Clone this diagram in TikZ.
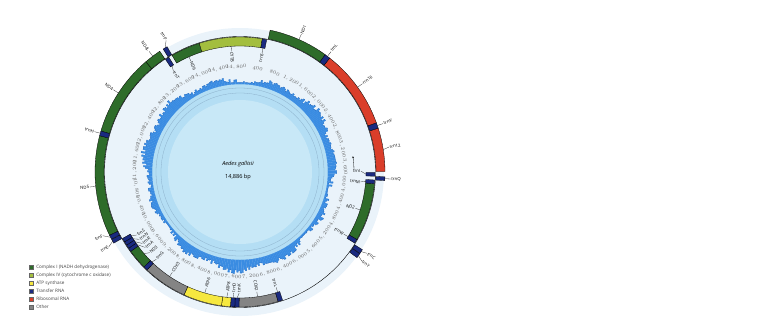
\documentclass[tikz,border=0pt]{standalone}
\usepackage{fontspec}
\setmainfont{Open Sans}
\usetikzlibrary{arrows.meta, positioning}
\definecolor{nadhgreen}{RGB}{46,108,42}
\definecolor{coxolive}{RGB}{163,190,62}
\definecolor{atpyellow}{RGB}{246,232,64}
\definecolor{trnanavy}{RGB}{26,42,128}
\definecolor{rrnared}{RGB}{218,62,42}
\definecolor{othergray}{RGB}{132,132,132}
\definecolor{mapbg}{RGB}{234,243,250}
\definecolor{gcblue}{RGB}{58,140,226}
\definecolor{gcedge}{RGB}{30,92,176}
\definecolor{gcband}{RGB}{180,222,244}
\definecolor{gccore}{RGB}{200,232,247}
\definecolor{gcline}{RGB}{140,176,202}

\tikzset{
  genebox/.style={draw=black, line width=0.3pt},
  glabel/.style={font=\fontsize{4.3pt}{5pt}\selectfont, inner sep=0.5pt},
  leader/.style={draw=black!80, line width=0.3pt},
  ticklabel/.style={font=\fontsize{2.3pt}{3pt}\selectfont, text=black!60, inner sep=0pt},
  legbox/.style={draw=black!60, line width=0.2pt, minimum size=4pt, inner sep=0pt},
  legtext/.style={font=\fontsize{4.6pt}{5pt}\selectfont, text=black!75, inner sep=0.5pt}
}

% gene boxes: inside the genome line (+) or outside (-)
\newcommand{\geneIn}[3]{\filldraw[genebox, fill=#3] (#1:126pt) arc[start angle=#1, end angle=#2, radius=126pt] -- (#2:135pt) arc[start angle=#2, end angle=#1, radius=135pt] -- cycle;}
\newcommand{\geneOut}[3]{\filldraw[genebox, fill=#3] (#1:136pt) arc[start angle=#1, end angle=#2, radius=136pt] -- (#2:145pt) arc[start angle=#2, end angle=#1, radius=145pt] -- cycle;}

% labels: name, gene angle, label angle, text
\newcommand{\outLab}[4]{%
  \coordinate (#1-g) at (#2:145pt);
  \pgfmathtruncatemacro\lside{cos(#3)<0}
  \ifnum\lside=1
    \node[glabel, rotate=#3+180, anchor=east] (#1) at (#3:151pt) {#4};
    \draw[leader] (#1-g) -- (#1.east);
  \else
    \node[glabel, rotate=#3, anchor=west] (#1) at (#3:151pt) {#4};
    \draw[leader] (#1-g) -- (#1.west);
  \fi}
\newcommand{\inLab}[4]{%
  \coordinate (#1-g) at (#2:126pt);
  \pgfmathtruncatemacro\lside{cos(#3)<0}
  \ifnum\lside=1
    \node[glabel, rotate=#3+180, anchor=west] (#1) at (#3:121pt) {#4};
    \draw[leader] (#1-g) -- (#1.west);
  \else
    \node[glabel, rotate=#3, anchor=east] (#1) at (#3:121pt) {#4};
    \draw[leader] (#1-g) -- (#1.east);
  \fi}

\begin{document}
\begin{tikzpicture}[x=1pt, y=1pt]
\useasboundingbox (-240,-150) rectangle (522,172);

% background discs
\fill[mapbg] (0,0) circle (144pt);
\fill[gcband] (0,0) circle (88pt);
\fill[gccore] (0,0) circle (72pt);
\draw[gcline, line width=0.3pt] (0,0) circle (84pt);
\draw[gcline, line width=0.3pt] (0,0) circle (79pt);

% GC content
\pgfmathsetseed{14886}
\foreach \a in {0,...,359}{
  \pgfmathsetmacro\h{max(89.5, 92+3*sin(3*\a)+2.5*sin(11*\a+40)+4.5*rnd)}
  \fill[gcblue, draw=gcblue, line width=0.15pt] (\a:88pt) -- (\a:\h pt) arc[start angle=\a, end angle=\a+1, radius=\h pt] -- (\a+1:88pt) -- cycle;
  \draw[gcedge, line width=0.25pt] (\a:\h pt) arc[start angle=\a, end angle=\a+1, radius=\h pt];
}

% position marks
\foreach \i in {1,...,37}{
  \pgfmathsetmacro\ang{90-\i*400/14886*360}
  \pgfmathtruncatemacro\pos{\i*400}
  \node[ticklabel, rotate={ifthenelse(sin(\ang)<0,\ang+90,\ang-90)}] (tk\i) at (\ang:105pt) {\pgfmathprintnumber[1000 sep={,}]{\pos}};
}
\draw[-{Stealth[length=2pt, width=1.6pt]}, line width=0.3pt] (1:114pt) arc[start angle=1, end angle=8, radius=114pt];

% genome line
\draw[black, line width=0.4pt] (0,0) circle (135.5pt);

% Complex I
\geneOut{78.0}{54.0}{nadhgreen}
\geneIn{-5.0}{-30.0}{nadhgreen}
\geneIn{-135.3}{-144.0}{nadhgreen}
\geneOut{-154.1}{-194.5}{nadhgreen}
\geneOut{163.6}{130.5}{nadhgreen}
\geneOut{130.5}{123.6}{nadhgreen}
\geneIn{120.2}{107.6}{nadhgreen}
% CYTB, ATP, other
\geneIn{107.6}{80.5}{coxolive}
\geneIn{-94.0}{-97.9}{atpyellow}
\geneIn{-97.9}{-114.5}{atpyellow}
\geneIn{-73.6}{-90.4}{othergray}
\geneIn{-114.5}{-133.5}{othergray}
% rRNA
\geneOut{51.8}{19.8}{rrnared}
\geneOut{17.6}{0.2}{rrnared}
% tRNA
\geneIn{80.5}{78.6}{trnanavy}
\geneOut{54.0}{51.8}{trnanavy}
\geneOut{19.8}{17.6}{trnanavy}
\geneIn{-0.2}{-1.8}{trnanavy}
\geneOut{-1.9}{-3.4}{trnanavy}
\geneIn{-3.4}{-5.0}{trnanavy}
\geneIn{-30.0}{-31.8}{trnanavy}
\geneOut{-32.4}{-34.2}{trnanavy}
\geneOut{-34.3}{-36.2}{trnanavy}
\geneIn{-71.6}{-73.6}{trnanavy}
\geneIn{-90.4}{-92.2}{trnanavy}
\geneIn{-92.2}{-94.0}{trnanavy}
\geneIn{-133.5}{-135.3}{trnanavy}
\geneIn{-144.0}{-145.6}{trnanavy}
\geneIn{-145.6}{-147.2}{trnanavy}
\geneIn{-147.2}{-148.8}{trnanavy}
\geneIn{-148.8}{-150.5}{trnanavy}
\geneOut{-150.6}{-152.3}{trnanavy}
\geneOut{-152.4}{-154.1}{trnanavy}
\geneOut{165.5}{163.6}{trnanavy}
\geneIn{123.5}{121.8}{trnanavy}
\geneOut{122.0}{120.2}{trnanavy}

% outer labels
\outLab{lND1}{66}{66}{ND1}
\outLab{lTrnL1}{52.9}{52.9}{trnL}
\outLab{lRrnL}{35.8}{35.8}{rrn16}
\outLab{lTrnV}{18.7}{18.7}{trnV}
\outLab{lRrnS}{8.9}{9.5}{rrn12}
\outLab{lTrnQ}{-2.65}{-2.65}{trnQ}
\outLab{lTrnC}{-33.3}{-32.6}{trnC}
\outLab{lTrnY}{-35.25}{-36.2}{trnY}
\outLab{lTrnE}{-151.45}{-150.3}{trnE}
\outLab{lTrnF}{-153.25}{-155.0}{trnF}
\outLab{lND5}{-174.3}{-174.3}{ND5}
\outLab{lTrnH}{164.5}{164.5}{trnH}
\outLab{lND4}{147}{147}{ND4}
\outLab{lND4L}{127}{127}{ND4L}
\outLab{lTrnP}{121.1}{119.3}{trnP}

% inner labels
\inLab{lCYTB}{94}{94}{CYTB}
\inLab{lTrnS2}{79.5}{79.5}{trnS}
\inLab{lTrnI}{-1}{0.4}{trnI}
\inLab{lTrnM}{-4.2}{-4.7}{trnM}
\inLab{lND2}{-17.5}{-17.5}{ND2}
\inLab{lTrnW}{-30.9}{-30.9}{trnW}
\inLab{lTrnL2}{-72.6}{-72.6}{trnL}
\inLab{lCOX2}{-82}{-82}{COX2}
\inLab{lTrnK}{-91.3}{-90.4}{trnK}
\inLab{lTrnD}{-93.1}{-93.0}{trnD}
\inLab{lATP8}{-96}{-95.8}{ATP8}
\inLab{lATP6}{-106.2}{-106.2}{ATP6}
\inLab{lCOX3}{-124}{-124}{COX3}
\inLab{lTrnG}{-134.4}{-133.8}{trnG}
\inLab{lND3}{-139.6}{-138.2}{ND3}
\inLab{lTrnA}{-144.8}{-141.4}{trnA}
\inLab{lTrnR}{-146.4}{-143.8}{trnR}
\inLab{lTrnN}{-148}{-146.2}{trnN}
\inLab{lTrnS1}{-149.65}{-148.6}{trnS}
\inLab{lTrnT}{122.6}{123.4}{trnT}
\inLab{lND6}{113.9}{113.9}{ND6}

% centre
\node[font=\fontsize{5.6pt}{6pt}\selectfont\itshape] (species) at (-2,8) {Aedes gallisii};
\node[font=\fontsize{5.6pt}{6pt}\selectfont, below=0.8pt of species] (size) {14,886 bp};

% legend
\foreach \col/\txt [count=\k] in {nadhgreen/Complex I (NADH dehydrogenase), coxolive/Complex IV (cytochrome c oxidase), atpyellow/ATP synthase, trnanavy/Transfer RNA, rrnared/Ribosomal RNA, othergray/Other}{
  \node[legbox, fill=\col] (key\k) at (-209,{-95-8*(\k-1)}) {};
  \node[legtext, right=2.5pt of key\k] (keytxt\k) {\txt};
}
\end{tikzpicture}
\end{document}
